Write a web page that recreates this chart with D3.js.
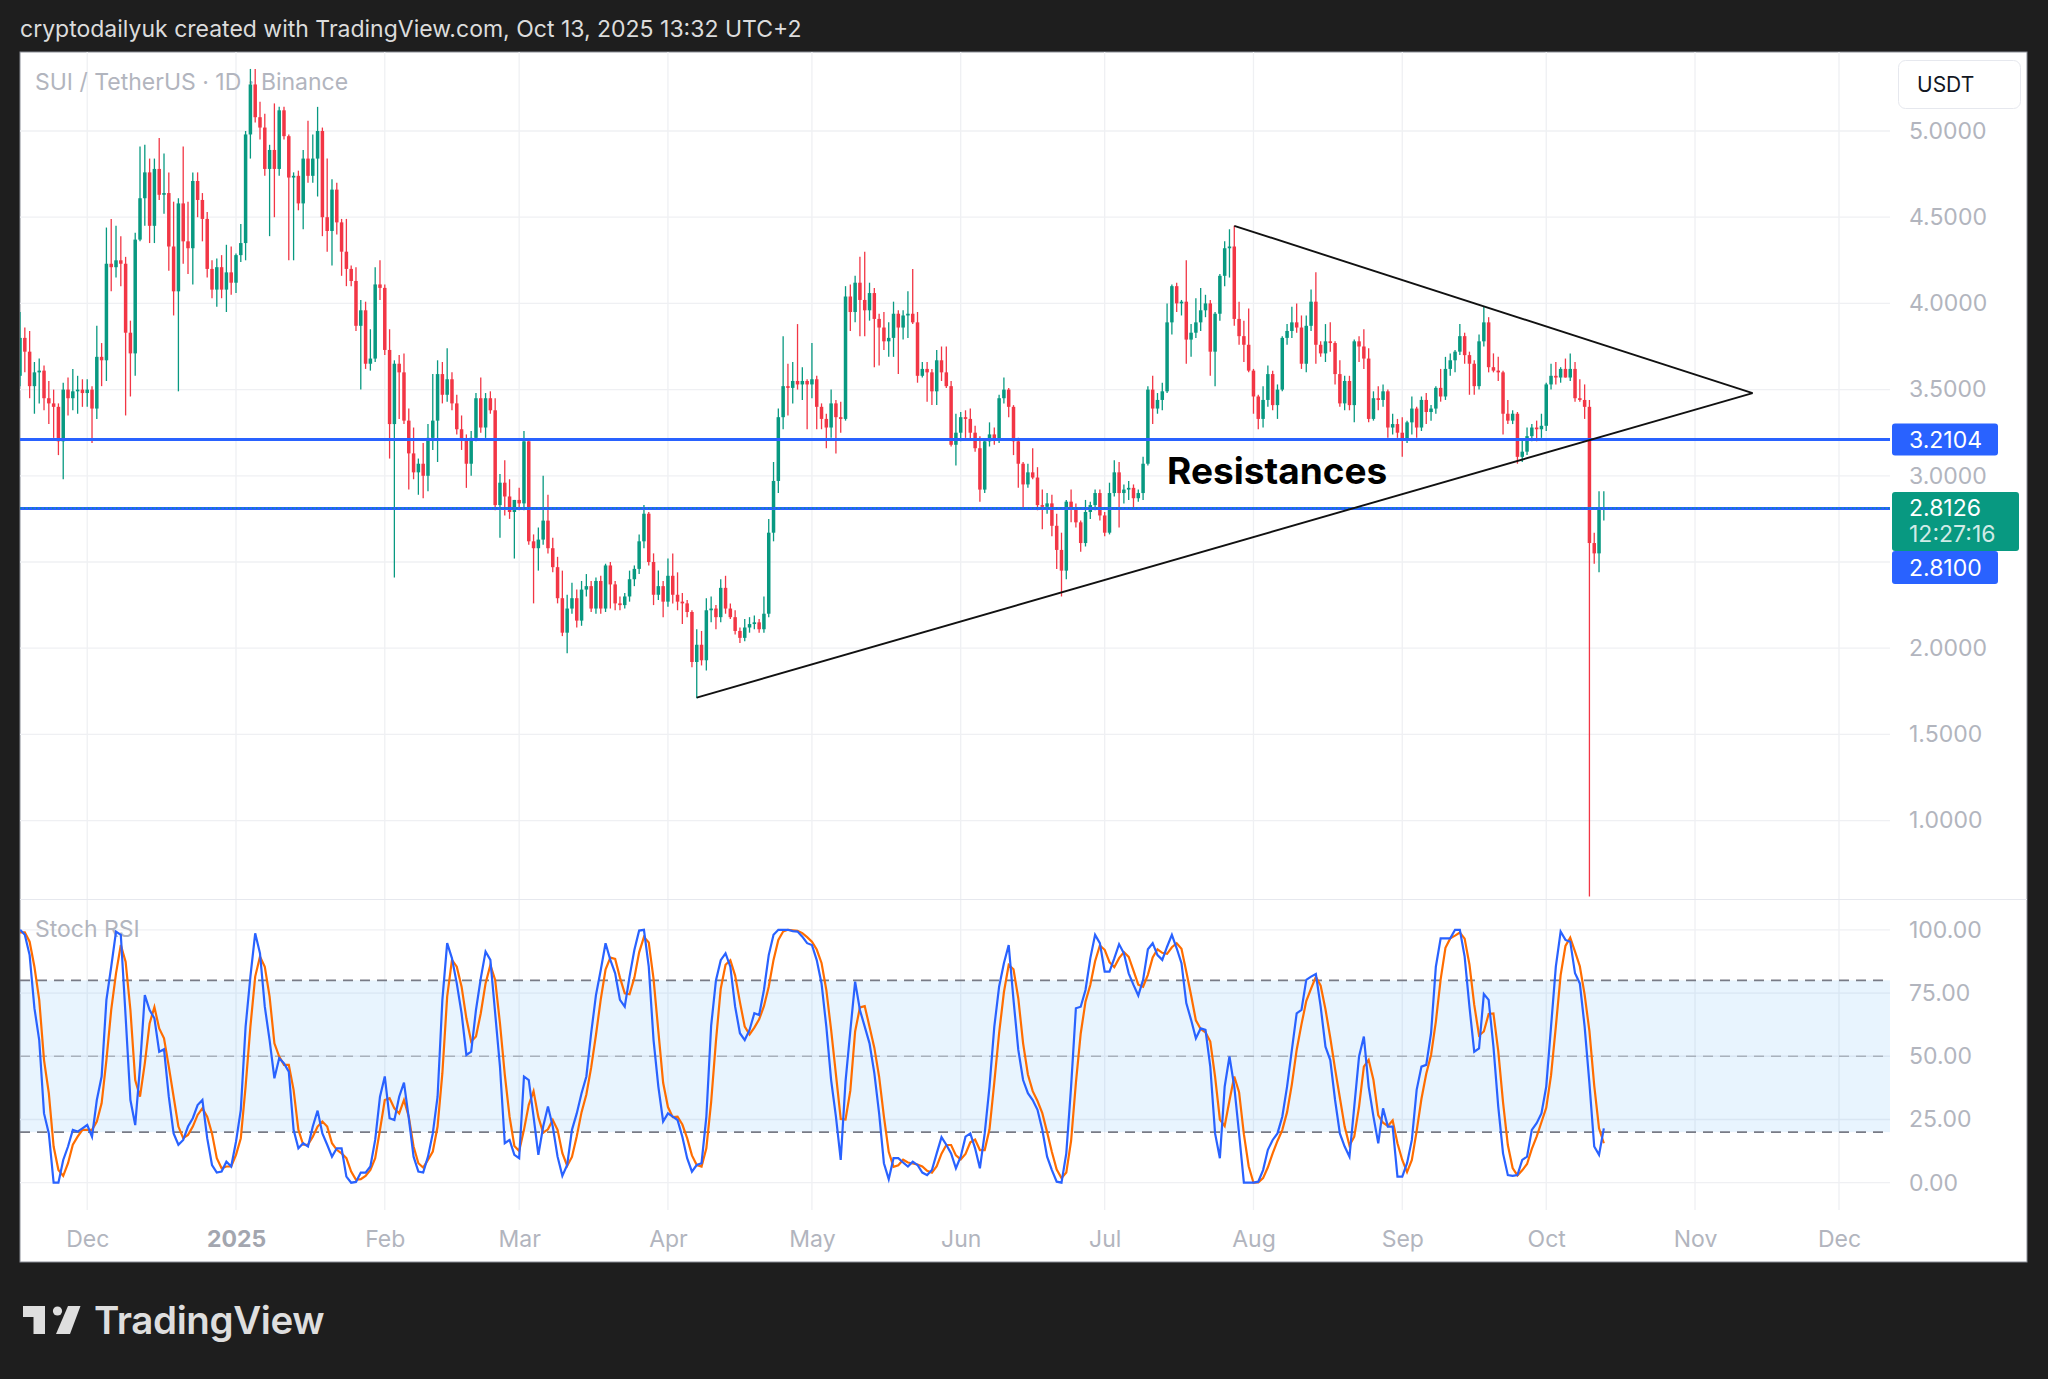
<!DOCTYPE html>
<html>
<head>
<meta charset="utf-8">
<script src="https://d3js.org/d3.v7.min.js"></script>
<style>body{margin:0;background:#1e1e1e}</style>
</head>
<body>
<script>
// ---- data: SUI/USDT daily candles, 2024-11-17 .. 2025-10-13 ----
var firstDay = "2024-11-17";
var opens = [3.58,3.80,3.72,3.52,3.60,3.61,3.45,3.42,3.40,3.20,
3.50,3.45,3.49,3.50,3.48,3.50,3.39,3.69,3.67,4.23,
4.21,4.25,4.23,3.83,3.71,4.37,4.61,4.76,4.45,4.78,
4.63,4.64,4.33,4.07,4.58,4.36,4.32,4.71,4.60,4.49,
4.20,4.08,4.21,4.08,4.18,4.12,4.28,4.35,4.98,5.27,
5.08,5.02,4.78,4.89,4.78,5.12,4.97,4.73,4.74,4.58,
4.84,4.74,4.84,5.00,4.50,4.42,4.66,4.47,4.30,4.20,
4.13,3.87,3.96,3.65,3.68,4.11,4.09,3.73,3.30,3.65,
3.60,3.32,3.13,3.02,3.07,3.00,3.22,3.32,3.59,3.47,
3.56,3.42,3.27,3.21,3.07,3.22,3.45,3.28,3.45,3.38,
2.83,2.96,2.88,2.79,2.86,2.84,3.20,2.62,2.58,2.63,
2.74,2.58,2.47,2.29,2.09,2.23,2.29,2.16,2.34,2.36,
2.23,2.39,2.23,2.48,2.37,2.26,2.25,2.30,2.40,2.46,
2.62,2.78,2.50,2.31,2.36,2.27,2.42,2.31,2.27,2.26,
2.21,1.92,2.02,1.93,2.22,2.23,2.18,2.35,2.23,2.18,
2.10,2.06,2.12,2.14,2.15,2.11,2.20,2.67,2.97,3.34,
3.52,3.51,3.55,3.53,3.55,3.53,3.56,3.40,3.33,3.28,
3.42,3.34,3.33,4.04,3.95,4.12,4.02,3.96,4.06,3.91,
3.86,3.78,3.80,3.94,3.86,3.93,3.94,3.89,3.58,3.62,
3.60,3.49,3.67,3.60,3.52,3.18,3.25,3.34,3.33,3.25,
3.16,2.92,3.20,3.24,3.21,3.45,3.50,3.40,3.20,3.07,
2.95,3.02,2.99,2.83,2.82,2.84,2.71,2.57,2.45,2.85,
2.81,2.73,2.61,2.79,2.83,2.90,2.77,2.67,2.90,3.02,
2.90,2.92,2.93,2.87,2.90,3.07,3.50,3.39,3.44,3.49,
3.89,4.10,4.00,4.01,3.79,3.83,3.89,3.96,4.00,3.72,
3.94,4.16,4.32,4.33,3.91,3.81,3.76,3.61,3.46,3.33,
3.44,3.59,3.41,3.50,3.80,3.84,3.89,3.86,3.65,3.87,
4.01,3.76,3.71,3.78,3.77,3.59,3.42,3.55,3.41,3.78,
3.75,3.68,3.33,3.45,3.44,3.49,3.28,3.30,3.25,3.21,
3.31,3.39,3.28,3.44,3.37,3.39,3.51,3.46,3.62,3.67,
3.72,3.81,3.70,3.65,3.52,3.78,3.89,3.63,3.61,3.60,
3.36,3.32,3.36,3.11,3.14,3.23,3.28,3.27,3.29,3.53,
3.58,3.57,3.62,3.57,3.62,3.45,3.44,3.40,2.61,2.55,
2.81];
var highs = [3.95,3.86,3.84,3.66,3.68,3.64,3.55,3.50,3.42,3.54,
3.57,3.62,3.58,3.56,3.56,3.52,3.87,3.77,4.44,4.49,
4.45,4.39,4.27,3.90,4.41,4.91,4.92,4.84,4.84,4.96,
4.87,4.76,4.59,4.61,4.91,4.59,4.76,4.76,4.64,4.53,
4.25,4.26,4.28,4.34,4.33,4.29,4.46,5.00,5.36,5.36,
5.17,5.10,4.92,5.16,5.14,5.14,4.98,4.76,4.77,4.89,
5.06,4.98,5.14,5.02,4.84,4.72,4.70,4.49,4.49,4.22,
4.21,4.02,4.01,3.85,4.21,4.25,4.11,3.85,3.67,3.70,
3.71,3.39,3.28,3.10,3.19,3.30,3.59,3.67,3.66,3.74,
3.60,3.47,3.35,3.24,3.26,3.48,3.57,3.48,3.49,3.45,
3.01,3.09,2.98,2.86,2.93,3.26,3.21,2.66,2.70,3.00,
2.89,2.64,2.53,2.45,2.31,2.38,2.34,2.39,2.43,2.39,
2.41,2.42,2.49,2.50,2.39,2.30,2.32,2.45,2.48,2.66,
2.83,2.79,2.55,2.45,2.39,2.52,2.55,2.44,2.32,2.28,
2.22,2.11,2.10,2.29,2.30,2.25,2.40,2.42,2.26,2.22,
2.12,2.17,2.18,2.19,2.17,2.30,2.75,3.08,3.39,3.81,
3.65,3.66,3.88,3.63,3.56,3.77,3.58,3.42,3.36,3.50,
3.44,3.43,4.10,4.11,4.16,4.27,4.30,4.12,4.09,3.94,
3.95,3.89,4.01,3.96,3.96,4.07,4.20,3.95,3.66,3.66,
3.62,3.73,3.75,3.75,3.55,3.36,3.37,3.38,3.39,3.29,
3.23,3.21,3.31,3.28,3.47,3.57,3.51,3.41,3.22,3.08,
3.07,3.16,3.05,2.92,2.90,2.89,2.78,2.67,2.86,2.92,
2.84,2.74,2.86,2.85,2.92,2.92,2.79,2.96,3.09,3.08,
2.95,2.97,2.95,2.92,3.11,3.52,3.58,3.48,3.54,4.00,
4.11,4.12,4.02,4.25,3.88,4.03,4.09,4.05,4.02,3.95,
4.17,4.36,4.43,4.45,4.01,3.90,3.97,3.62,3.47,3.52,
3.64,3.61,3.53,3.81,3.88,3.98,4.00,3.93,3.93,4.08,
4.18,3.78,3.88,3.89,3.78,3.67,3.58,3.58,3.79,3.81,
3.85,3.74,3.49,3.52,3.53,3.50,3.36,3.33,3.34,3.32,
3.46,3.40,3.46,3.48,3.41,3.52,3.62,3.69,3.71,3.73,
3.88,3.83,3.72,3.67,3.82,3.98,3.92,3.71,3.69,3.61,
3.44,3.38,3.37,3.21,3.28,3.30,3.32,3.36,3.54,3.65,
3.66,3.63,3.68,3.71,3.66,3.56,3.53,3.44,2.67,2.91,
2.91];
var lows = [3.52,3.60,3.45,3.36,3.42,3.38,3.30,3.22,3.12,2.98,
3.35,3.38,3.36,3.40,3.40,3.19,3.33,3.52,3.55,4.07,
4.15,4.10,3.35,3.46,3.58,4.36,4.45,4.35,4.35,4.60,
4.52,4.19,3.93,3.49,4.23,4.17,4.11,4.50,4.36,4.15,
4.03,3.98,4.03,3.95,4.05,4.06,4.24,4.25,4.84,5.05,
4.95,4.74,4.39,4.50,4.74,4.95,4.25,4.25,4.54,4.43,
4.70,4.70,4.62,4.39,4.30,4.22,4.40,4.16,4.10,4.10,
3.84,3.50,3.62,3.61,3.66,4.02,3.70,3.10,2.41,3.33,
3.30,2.92,2.98,2.89,2.87,2.91,3.15,3.08,3.42,3.43,
3.38,3.24,3.15,2.93,3.00,3.20,3.25,3.22,3.36,2.80,
2.64,2.77,2.75,2.52,2.80,2.80,2.60,2.26,2.45,2.60,
2.55,2.44,2.26,2.07,1.97,2.20,2.12,2.13,2.30,2.21,
2.20,2.20,2.21,2.23,2.22,2.22,2.23,2.27,2.36,2.43,
2.58,2.48,2.25,2.28,2.18,2.24,2.26,2.22,2.14,2.18,
1.89,1.71,1.90,1.87,2.15,2.11,2.15,2.20,2.17,2.08,
2.03,2.04,2.09,2.11,2.09,2.09,2.18,2.62,2.90,3.27,
3.35,3.42,3.50,3.44,3.27,3.45,3.27,3.27,3.16,3.22,
3.13,3.25,3.32,3.84,3.89,3.81,3.81,3.90,3.63,3.64,
3.73,3.69,3.69,3.59,3.79,3.80,3.88,3.54,3.57,3.43,
3.41,3.41,3.55,3.51,3.17,3.06,3.20,3.22,3.21,3.14,
2.85,2.90,3.17,3.18,3.19,3.42,3.34,3.12,2.93,2.81,
2.93,2.98,2.80,2.69,2.78,2.65,2.46,2.30,2.40,2.73,
2.70,2.56,2.59,2.75,2.80,2.74,2.65,2.66,2.88,2.70,
2.84,2.86,2.81,2.85,2.86,3.06,3.30,3.36,3.38,3.48,
3.82,3.95,3.93,3.65,3.69,3.80,3.84,3.92,3.58,3.52,
3.90,4.10,4.15,3.87,3.76,3.66,3.60,3.36,3.27,3.28,
3.40,3.38,3.33,3.49,3.76,3.80,3.83,3.62,3.60,3.84,
3.65,3.69,3.66,3.72,3.53,3.40,3.38,3.38,3.31,3.66,
3.62,3.31,3.32,3.38,3.40,3.22,3.24,3.22,3.11,3.19,
3.24,3.22,3.26,3.30,3.32,3.36,3.43,3.44,3.58,3.60,
3.70,3.65,3.47,3.47,3.50,3.75,3.60,3.60,3.55,3.24,
3.30,3.30,3.07,3.08,3.12,3.20,3.20,3.22,3.26,3.50,
3.53,3.54,3.57,3.55,3.43,3.43,3.33,0.56,2.49,2.44,
2.74];
var closes = [3.80,3.72,3.52,3.60,3.61,3.45,3.42,3.40,3.20,3.50,
3.45,3.49,3.50,3.48,3.50,3.39,3.69,3.67,4.23,4.21,
4.25,4.23,3.83,3.71,4.37,4.61,4.76,4.45,4.78,4.63,
4.64,4.33,4.07,4.58,4.36,4.32,4.71,4.60,4.49,4.20,
4.08,4.21,4.08,4.18,4.12,4.28,4.35,4.98,5.27,5.08,
5.02,4.78,4.89,4.78,5.12,4.97,4.73,4.74,4.58,4.84,
4.74,4.84,5.00,4.50,4.42,4.66,4.47,4.30,4.20,4.13,
3.87,3.96,3.65,3.68,4.11,4.09,3.73,3.30,3.65,3.60,
3.32,3.13,3.02,3.07,3.00,3.22,3.32,3.59,3.47,3.56,
3.42,3.27,3.21,3.07,3.22,3.45,3.28,3.45,3.38,2.83,
2.96,2.88,2.79,2.86,2.84,3.20,2.62,2.58,2.63,2.74,
2.58,2.47,2.29,2.09,2.23,2.29,2.16,2.34,2.36,2.23,
2.39,2.23,2.48,2.37,2.26,2.25,2.30,2.40,2.46,2.62,
2.78,2.50,2.31,2.36,2.27,2.42,2.31,2.27,2.26,2.21,
1.92,2.02,1.93,2.22,2.23,2.18,2.35,2.23,2.18,2.10,
2.06,2.12,2.14,2.15,2.11,2.20,2.67,2.97,3.34,3.52,
3.51,3.55,3.53,3.55,3.53,3.56,3.40,3.33,3.28,3.42,
3.34,3.33,4.04,3.95,4.12,4.02,3.96,4.06,3.91,3.86,
3.78,3.80,3.94,3.86,3.93,3.94,3.89,3.58,3.62,3.60,
3.49,3.67,3.60,3.52,3.18,3.25,3.34,3.33,3.25,3.16,
2.92,3.20,3.24,3.21,3.45,3.50,3.40,3.20,3.07,2.95,
3.02,2.99,2.83,2.82,2.84,2.71,2.57,2.45,2.85,2.81,
2.73,2.61,2.79,2.83,2.90,2.77,2.67,2.90,3.02,2.90,
2.92,2.93,2.87,2.90,3.07,3.50,3.39,3.44,3.49,3.89,
4.10,4.00,4.01,3.79,3.83,3.89,3.96,4.00,3.72,3.94,
4.16,4.32,4.33,3.91,3.81,3.76,3.61,3.46,3.33,3.44,
3.59,3.41,3.50,3.80,3.84,3.89,3.86,3.65,3.87,4.01,
3.76,3.71,3.78,3.77,3.59,3.42,3.55,3.41,3.78,3.75,
3.68,3.33,3.45,3.44,3.49,3.28,3.30,3.25,3.21,3.31,
3.39,3.28,3.44,3.37,3.39,3.51,3.46,3.62,3.67,3.72,
3.81,3.70,3.65,3.52,3.78,3.89,3.63,3.61,3.60,3.36,
3.32,3.36,3.11,3.14,3.23,3.28,3.27,3.29,3.53,3.58,
3.57,3.62,3.57,3.62,3.45,3.44,3.40,2.61,2.55,2.81,
2.8126];

// Stoch RSI %K and %D, one value per candle
var stochK = [100,98,90,69,56.4,27.4,19.5,0,0,9,
14.3,20.9,20.2,21.5,22.8,18.2,32.7,42,72.3,85.4,
99.3,98,65.7,32.7,22.8,45.9,74.2,68.3,65,51.8,
52.8,34,19.5,15,16.9,22.2,25.5,30.7,32.7,17.6,
7,4,4.4,8.3,6.4,16.2,28.8,61.7,81.5,98.6,
90.7,69.6,56.4,41.3,49.2,47.2,43.9,20.9,13.6,15.6,
14.3,22.2,28.5,19.5,15,10.3,13.6,13.6,2.4,0,
0.3,4,4,6.4,16.9,34,42,25.5,24.8,34,
39.6,25.5,10.3,4.4,4,10.3,19.5,34,72.3,94.7,
88.7,78.8,67,50.5,51.8,68.3,80.8,91.4,88.1,67,
45.9,15.6,16.9,11,9.7,42,40.6,26.1,11,22.2,
30.1,22.2,10.3,2.7,7,20.9,27.4,35.4,42,59.1,
74.2,84.1,94.7,88.1,82.8,72.3,69.6,81.5,92,99.7,
100,85.4,56.4,38,24.2,27.4,26.1,24.8,18.2,9.7,
4.4,7,7.7,26,62,80,88,90.7,85.4,69.6,
59.1,56.4,60.4,67,66.3,76.2,90,98,100,100,
100,99.5,99.3,97.3,94.7,94,88,78.8,61.7,40.6,
26.1,9,40,60,79.5,68.3,61.7,55.1,43.3,27.4,
7.7,1.4,9.7,9.7,8,6.4,8.3,7,4,3,
5,11.6,18,15,11.6,5.7,10.3,18.2,19.5,13.6,
5.7,19.5,38,61.7,77.5,86.8,94,72.3,52.5,40.6,
35.4,32.7,28.8,20.9,10.3,5,0.4,0,11.6,38,
69,69.6,76.2,88.7,98,94.7,83.5,83.5,88.7,94.3,
90.7,82.8,78.2,74,80.2,92.3,94.7,90,88.1,93.3,
98,92.7,86.8,71,64.4,57.1,61,60.4,45.9,19.5,
9.7,38,49.9,38,19.5,0,0,0,0.4,5,
13,16.9,19.5,26.1,38,52.5,67,68.3,80.2,81.5,
82.5,69.6,53.8,48.5,32.7,19.5,14.3,10.3,30.1,49.9,
57.8,38,26.1,15.6,29.4,22.2,22.2,2.4,2.4,7.7,
16.9,36.7,45.9,46.6,59.1,85.4,96.6,96.6,96.6,100,
100,89.4,69.6,51.8,53.1,74.6,72.3,53.8,30.1,11.6,
3,2.7,3,9,10.3,20.9,23.5,27.4,38,61.7,
85.4,99.3,96,95.3,82.8,78.8,61.7,39.3,14.3,11,
21.5];
var stochD = [99,99,95.3,85.4,72.3,48.5,35.4,14.3,5,2.7,
7.7,15,18.2,20.9,20.9,20.9,24.2,31.4,48.5,68.3,
82.8,94,87.4,68.3,40.6,34,47.2,63,69.4,61,
57.1,45.9,34,22.2,17.6,18.9,22.2,26.8,29.4,26.1,
19.5,9.7,5.7,6.4,6.4,11,17.6,38,61.7,81.5,
89.4,85.4,73.6,55.1,49.9,46.6,46.6,36.7,20.9,15,
15,18.2,22.2,24.2,22.2,15.6,13,11.6,9.7,4.4,
1.1,1.4,2.7,5,9.7,20.9,32.7,33.4,29.4,27.4,
32.7,26.1,14.3,7.7,6,9,12.3,22.2,43.3,73.6,
88.1,85.4,77.5,65,55.8,57.8,67,78.8,86.1,80.2,
63,42.8,26.1,14.5,12.5,20.9,30.8,36.2,25.9,19.8,
21.1,24.8,20.9,11.7,6.7,10.2,18.4,27.9,34.9,45.5,
58.4,72.5,84.3,89,88.5,81.1,74.9,74.5,81,91.1,
97.2,95,80.6,59.9,39.5,29.9,25.9,26.1,23,17.6,
10.8,7,6.4,13.6,31.9,56,76.7,86.2,88,81.9,
71.4,61.7,58.6,61.3,64.6,69.8,77.5,88.1,96,99.3,
100,99.8,99.6,98.7,97.1,95.3,92.2,86.9,76.2,60.4,
42.8,25.2,25,36.4,59.8,69.3,69.8,61.7,53.4,41.9,
26.1,12.2,6.3,6.9,9.1,8,7.6,7.2,6.4,4.7,
4,6.5,11.5,14.9,14.9,10.8,9.2,11.4,16,17.1,
12.9,12.9,21.1,39.7,59.1,75.3,86.1,84.4,72.9,55.1,
42.8,36.2,32.3,27.5,20,12.1,5.2,1.8,4,16.5,
39.5,58.9,71.6,78.2,87.6,93.8,92.1,87.2,85.2,88.8,
91.2,89.3,83.9,78.3,77.5,82.2,89.1,92.3,90.9,90.5,
93.1,94.7,92.5,83.5,74.1,64.2,60.8,59.5,55.8,41.9,
25,22.4,32.5,42,35.8,19.2,6.5,0,0.1,1.8,
6.1,11.6,16.5,20.8,27.9,38.9,52.5,62.6,71.8,76.7,
81.4,77.9,68.6,57.3,45,33.6,22.2,14.7,18.2,30.1,
45.9,48.6,40.6,26.6,23.7,22.4,24.6,15.6,9,4.2,
9,20.4,33.2,43.1,50.5,63.7,80.4,92.9,96.6,97.7,
98.9,96.5,86.3,70.3,58.2,59.8,66.7,66.9,52.1,31.8,
14.9,5.8,2.9,4.9,7.4,13.4,18.2,23.9,29.6,42.4,
61.7,82.1,93.6,96.9,91.4,85.6,74.4,59.9,38.4,21.5,
15.6];

// axis ticks and labels
var priceGrid = [5, 4.5, 4, 3.5, 3, 2.5, 2, 1.5, 1];
var priceLabels = [5, 4.5, 4, 3.5, 3, 2, 1.5, 1];
var stochTicks = [100, 75, 50, 25, 0];
var monthTicks = ["2024-12-01","2025-01-01","2025-02-01","2025-03-01","2025-04-01","2025-05-01",
  "2025-06-01","2025-07-01","2025-08-01","2025-09-01","2025-10-01","2025-11-01","2025-12-01"];
var monthLabels = ["Dec","2025","Feb","Mar","Apr","May","Jun","Jul","Aug","Sep","Oct","Nov","Dec"];

// drawings on the chart
var levels = [3.2104, 2.8100];
var lastPrice = 2.8126;
var countdown = "12:27:16";
var trendLines = [
  [["2025-04-07", 1.713], ["2025-11-13", 3.48]],
  [["2025-07-28", 4.45], ["2025-11-13", 3.48]]
];
var noteText = "Resistances";
var notePos = ["2025-07-14", 2.955];

// ---- layout ----
var W = 2048, H = 1379;
var L = 20, R = 1890, TOP = 52, PANE = 899, BOT = 1210;
var FONT = "Inter, 'Noto Sans', 'DejaVu Sans', sans-serif";
var UP = "#089981", DOWN = "#f23645", BLUE = "#2962ff";

var parse = d3.utcParse("%Y-%m-%d");
var t0 = parse(firstDay).getTime();
var dates = closes.map(function(c, i) { return new Date(t0 + i * 864e5); });
var idx = d3.range(closes.length);

var x = d3.scaleUtc().domain([parse("2025-01-01"), parse("2025-12-01")]).range([236, 1839]);
var y = d3.scaleLinear().domain([1, 5]).range([820.6, 131]);
var ys = d3.scaleLinear().domain([0, 100]).range([1182.7, 929.8]);

var svg = d3.select("body").append("svg")
  .attr("width", W).attr("height", H)
  .style("display", "block")
  .attr("font-family", FONT);

svg.append("rect").attr("width", W).attr("height", H).attr("fill", "#1e1e1e");
svg.append("rect").attr("x", L).attr("y", TOP).attr("width", 2007).attr("height", 1210)
  .attr("fill", "#fff").attr("stroke", "#8a8d96").attr("stroke-width", 1);

var defs = svg.append("defs");
defs.append("clipPath").attr("id", "cp").append("rect")
  .attr("x", L).attr("y", TOP).attr("width", R - L).attr("height", PANE - TOP);
defs.append("clipPath").attr("id", "cs").append("rect")
  .attr("x", L).attr("y", PANE).attr("width", R - L).attr("height", BOT - PANE);

// grid
var grid = svg.append("g").attr("stroke", "#eff0f3").attr("stroke-width", 1.3);
grid.selectAll("line.v").data(monthTicks).join("line")
  .attr("x1", function(d) { return x(parse(d)); }).attr("x2", function(d) { return x(parse(d)); })
  .attr("y1", TOP).attr("y2", BOT);
grid.selectAll("line.h").data(priceGrid).join("line")
  .attr("x1", L).attr("x2", R).attr("y1", function(d) { return y(d); }).attr("y2", function(d) { return y(d); });
grid.selectAll("line.s").data(stochTicks).join("line")
  .attr("x1", L).attr("x2", R).attr("y1", function(d) { return ys(d); }).attr("y2", function(d) { return ys(d); });
svg.append("line").attr("x1", L).attr("x2", 2027).attr("y1", PANE + 0.5).attr("y2", PANE + 0.5)
  .attr("stroke", "#e6e8ee").attr("stroke-width", 1);

// pane titles
svg.append("text").attr("x", 35).attr("y", 90).attr("font-size", 23).attr("fill", "#b2b5be")
  .text("SUI / TetherUS \u00b7 1D \u00b7 Binance");
svg.append("text").attr("x", 35).attr("y", 937).attr("font-size", 23).attr("fill", "#b2b5be")
  .text("Stoch RSI");

// candles
var cg = svg.append("g").attr("clip-path", "url(#cp)");
function col(i) { return closes[i] >= opens[i] ? UP : DOWN; }
cg.selectAll("line.wick").data(idx).join("line")
  .attr("x1", function(i) { return x(dates[i]); }).attr("x2", function(i) { return x(dates[i]); })
  .attr("y1", function(i) { return y(highs[i]); }).attr("y2", function(i) { return y(lows[i]); })
  .attr("stroke", col).attr("stroke-width", 1.3);
cg.selectAll("rect.body").data(idx).join("rect")
  .attr("x", function(i) { return x(dates[i]) - 1.75; })
  .attr("y", function(i) { return y(Math.max(opens[i], closes[i])); })
  .attr("width", 3.5)
  .attr("height", function(i) { return Math.max(1, Math.abs(y(opens[i]) - y(closes[i]))); })
  .attr("fill", col);

// horizontal levels and last price line
cg.selectAll("line.lvl").data(levels).join("line")
  .attr("x1", L).attr("x2", R).attr("y1", function(d) { return y(d); }).attr("y2", function(d) { return y(d); })
  .attr("stroke", BLUE).attr("stroke-width", 3);
cg.append("line").attr("x1", L).attr("x2", R).attr("y1", y(lastPrice)).attr("y2", y(lastPrice))
  .attr("stroke", UP).attr("stroke-width", 1.2).attr("stroke-dasharray", "1.5,2.5");

// triangle
cg.selectAll("line.tl").data(trendLines).join("line")
  .attr("x1", function(d) { return x(parse(d[0][0])); }).attr("y1", function(d) { return y(d[0][1]); })
  .attr("x2", function(d) { return x(parse(d[1][0])); }).attr("y2", function(d) { return y(d[1][1]); })
  .attr("stroke", "#111").attr("stroke-width", 1.9);
svg.append("text").attr("x", x(parse(notePos[0]))).attr("y", y(notePos[1]))
  .attr("font-size", 37).attr("font-weight", 700).attr("fill", "#000").text(noteText);

// stoch pane
var sg = svg.append("g").attr("clip-path", "url(#cs)");
sg.append("rect").attr("x", L).attr("width", R - L).attr("y", ys(80)).attr("height", ys(20) - ys(80))
  .attr("fill", "rgba(33,150,243,0.1)");
sg.selectAll("line.band").data([80, 50, 20]).join("line")
  .attr("x1", L).attr("x2", R).attr("y1", function(d) { return ys(d); }).attr("y2", function(d) { return ys(d); })
  .attr("stroke", function(d) { return d === 50 ? "rgba(120,123,134,0.5)" : "#787b86"; })
  .attr("stroke-width", 1.6).attr("stroke-dasharray", "10,7");
var sline = d3.line().x(function(d, i) { return x(dates[i]); }).y(function(d) { return ys(d); });
sg.append("path").datum(stochD).attr("d", sline).attr("fill", "none").attr("stroke", "#ff6d00").attr("stroke-width", 2.2);
sg.append("path").datum(stochK).attr("d", sline).attr("fill", "none").attr("stroke", BLUE).attr("stroke-width", 2.2);

// axes
function styleAxis(g) {
  g.select(".domain").remove();
  g.attr("font-family", FONT).attr("font-size", 23);
  g.selectAll("text").attr("fill", "#b2b5be");
}
svg.append("g").attr("transform", "translate(" + R + ",0)")
  .call(d3.axisRight(y).tickValues(priceLabels).tickSize(0).tickPadding(19).tickFormat(d3.format(".4f")))
  .call(styleAxis);
svg.append("g").attr("transform", "translate(" + R + ",0)")
  .call(d3.axisRight(ys).tickValues(stochTicks).tickSize(0).tickPadding(19).tickFormat(d3.format(".2f")))
  .call(styleAxis);
var xa = svg.append("g").attr("transform", "translate(0," + BOT + ")")
  .call(d3.axisBottom(x).tickValues(monthTicks.map(parse)).tickSize(0).tickPadding(21)
    .tickFormat(function(d, i) { return monthLabels[i]; }))
  .call(styleAxis);
xa.selectAll("text").filter(function(d, i) { return monthLabels[i] === "2025"; })
  .attr("font-weight", 700).attr("fill", "#a3a6af");

// price tags
var tg = svg.append("g").attr("font-size", 23).attr("fill", "#fff");
var yl0 = y(levels[0]);
tg.append("rect").attr("x", 1892).attr("y", yl0 - 16).attr("width", 106).attr("height", 32).attr("rx", 3).attr("fill", BLUE);
tg.append("text").attr("x", 1909).attr("y", yl0 + 8.5).text(d3.format(".4f")(levels[0]));
var yc = y(lastPrice);
tg.append("rect").attr("x", 1892).attr("y", yc - 16).attr("width", 127).attr("height", 59).attr("rx", 3).attr("fill", UP);
tg.append("text").attr("x", 1909).attr("y", yc + 8).text(d3.format(".4f")(lastPrice));
tg.append("text").attr("x", 1909).attr("y", yc + 34).attr("fill", "rgba(255,255,255,0.82)").text(countdown);
var yb = yc + 43;
tg.append("rect").attr("x", 1892).attr("y", yb).attr("width", 106).attr("height", 33).attr("rx", 3).attr("fill", BLUE);
tg.append("text").attr("x", 1909).attr("y", yb + 25).text(d3.format(".4f")(levels[1]));

// currency button
svg.append("rect").attr("x", 1898.5).attr("y", 60.5).attr("width", 122).attr("height", 48).attr("rx", 7)
  .attr("fill", "#fff").attr("stroke", "#e6e8ee");
svg.append("text").attr("x", 1917).attr("y", 92).attr("font-size", 21).attr("fill", "#131722").text("USDT");

// header and footer
svg.append("text").attr("x", 20).attr("y", 37).attr("font-size", 23).attr("fill", "#dcdcdc")
  .text("cryptodailyuk created with TradingView.com, Oct 13, 2025 13:32 UTC+2");
var logo = svg.append("g").attr("fill", "#dedede");
logo.append("path").attr("d", "M23,1306 H45 V1334 H33.5 V1317 H23 Z");
logo.append("circle").attr("cx", 57.5).attr("cy", 1311).attr("r", 4.6);
logo.append("path").attr("d", "M56,1334 L68,1306 H80.5 L70,1334 Z");
logo.append("text").attr("x", 94).attr("y", 1334).attr("font-size", 38.5).attr("font-weight", 600)
  .attr("letter-spacing", -0.4).text("TradingView");
</script>
</body>
</html>
